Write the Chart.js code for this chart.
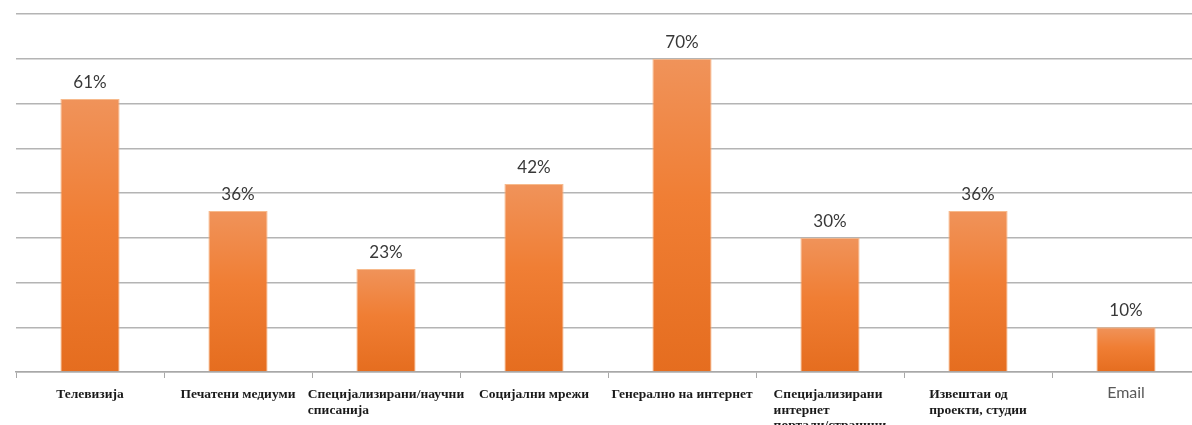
<!DOCTYPE html>
<html>
<head>
<meta charset="utf-8">
<script src="https://cdn.jsdelivr.net/npm/chart.js@4.4.1/dist/chart.umd.min.js"></script>
<style>
  html, body { margin: 0; padding: 0; background: #fff; overflow: hidden; }
  #wrap { width: 1210px; height: 425px; }
</style>
</head>
<body>
<div id="wrap"><canvas id="myChart" width="1210" height="425"></canvas></div>
<script>
// Sources of information (percent of respondents)
var categories = [
  ['Телевизија'],
  ['Печатени медиуми'],
  ['Специјализирани/научни', 'списанија'],
  ['Социјални мрежи'],
  ['Генерално на интернет'],
  ['Специјализирани', 'интернет', 'портали/страници'],
  ['Извештаи од', 'проекти, студии'],
  ['Email']
];
var values = [61, 36, 23, 42, 70, 30, 36, 10];
var yTicks = [0, 10, 20, 30, 40, 50, 60, 70, 80];

// orange gradient, lighter at the top of each bar
function barFill(c) {
  var chart = c.chart;
  var y = chart.scales.y;
  if (!y || c.dataIndex === undefined) return '#ef7d32';
  var top = y.getPixelForValue(values[c.dataIndex]);
  var bottom = y.getPixelForValue(0);
  if (!isFinite(top) || !isFinite(bottom) || top === bottom) return '#ef7d32';
  var g = chart.ctx.createLinearGradient(0, top, 0, bottom);
  g.addColorStop(0, '#f0935a');
  g.addColorStop(0.45, '#f07e34');
  g.addColorStop(1, '#e56d1f');
  return g;
}

// percent labels above the bars
var valueLabels = {
  id: 'valueLabels',
  afterDatasetsDraw: function(chart) {
    var ctx = chart.ctx;
    var meta = chart.getDatasetMeta(0);
    ctx.save();
    ctx.font = '17px Lato, "Open Sans", sans-serif';
    ctx.fillStyle = '#383838';
    ctx.textAlign = 'center';
    ctx.textBaseline = 'alphabetic';
    meta.data.forEach(function(bar, i) {
      ctx.fillText(values[i] + '%', bar.x, bar.y - 11);
    });
    ctx.restore();
  }
};

// category labels: block centered under the bar, lines left aligned
var catLabels = {
  id: 'catLabels',
  afterDraw: function(chart) {
    var ctx = chart.ctx;
    var x = chart.scales.x;
    var base = chart.scales.y.getPixelForValue(0) + 26;
    ctx.save();
    ctx.textBaseline = 'alphabetic';
    ctx.textAlign = 'left';
    categories.forEach(function(lines, i) {
      var cx = x.getPixelForValue(i);
      if (lines[0] === 'Email') {
        ctx.font = '16px Lato, "Open Sans", sans-serif';
        ctx.fillStyle = '#595959';
      } else {
        ctx.font = 'bold 13.5px "Liberation Serif", serif';
        ctx.fillStyle = '#1a1a1a';
      }
      var w = 0;
      lines.forEach(function(l) { w = Math.max(w, ctx.measureText(l).width); });
      lines.forEach(function(l, j) {
        ctx.fillText(l, cx - w / 2, base + j * 15.5);
      });
    });
    ctx.restore();
  }
};

var ctx = document.getElementById('myChart');
var data = {
  labels: categories,
  datasets: [{
    data: values,
    backgroundColor: barFill,
    borderColor: 'rgba(246,178,128,0.9)',
    borderWidth: 1,
    barPercentage: 0.8,
    categoryPercentage: 0.5
  }]
};
var myBarChart = new Chart(ctx, {
  type: 'bar',
  data: data,
  plugins: [valueLabels, catLabels],
  options: {
    responsive: false,
    animation: false,
    devicePixelRatio: 1,
    layout: { padding: { left: 16, right: 10, top: 14, bottom: 47 } },
    plugins: {
      legend: { display: false },
      tooltip: { enabled: false }
    },
    scales: {
      x: {
        offset: true,
        grid: {
          offset: true,
          drawOnChartArea: false,
          drawTicks: true,
          tickLength: 6,
          color: '#a8a8a8',
          lineWidth: 1
        },
        border: { display: true, color: '#a8a8a8', width: 1.5 },
        ticks: { display: false }
      },
      y: {
        min: 0,
        max: 80,
        afterBuildTicks: function(scale) {
          scale.ticks = yTicks.map(function(v) { return { value: v }; });
        },
        grid: { color: '#b4b4b4', lineWidth: 1.5, drawTicks: false },
        border: { display: false },
        ticks: { display: false }
      }
    }
  }
});
</script>
</body>
</html>
